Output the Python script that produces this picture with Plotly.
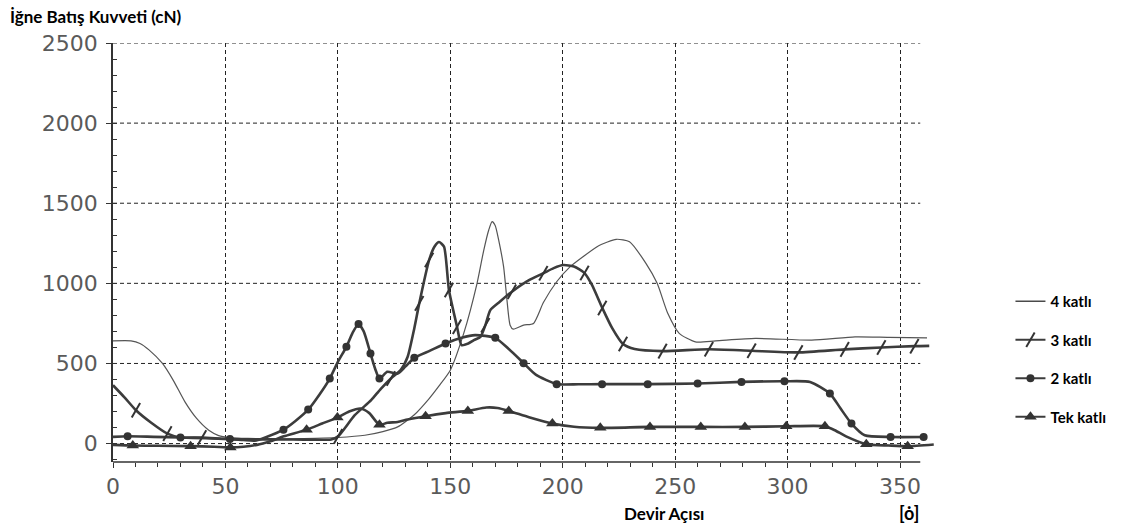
import plotly.graph_objects as go

# ---------------- data ----------------
# 4 katlı (thin line, no markers)
x4 = [0, 8, 12, 16, 22, 27, 32, 37, 42.6, 47, 52, 60, 70, 80, 90, 100, 112, 120, 126.6, 134,
      140.6, 145, 150, 156, 161.9, 164.9, 167.1, 168.6, 170, 171.5, 173.7, 175.2, 176.6, 178, 182.6,
      187, 191.4, 197.3, 203, 209, 216, 223.8, 229.7, 237, 242, 246.7, 251.8, 259, 268, 285.7,
      310.7, 330, 345, 362]
y4 = [641, 641, 625, 585, 500, 390, 260, 160, 83, 50, 38, 32, 30, 30, 33, 38, 52, 75, 104, 180,
      281, 360, 458, 689, 1000, 1208, 1333, 1385, 1360, 1271, 1104, 896, 739, 714, 739,
      750, 880, 1010, 1100, 1166, 1235, 1275, 1260, 1125, 1000, 813, 688, 635, 641, 656,
      646, 666, 663, 660]

# 3 katlı
x3 = [0, 5, 10.2, 17, 24.2, 30, 39.6, 50, 60, 70, 80, 90, 97, 100.1, 107.5, 114.8, 119, 123.6, 128, 131,
      134, 136.2, 140.6, 143, 145, 147.2, 149.4, 153, 155, 158, 160.5, 163.4, 165.6, 167.8, 172, 177.4,
      185, 191.4, 196, 200.2, 205, 209.7, 213, 217.6, 222, 226.8, 232, 244.4, 265, 284, 304.8, 325.4,
      341.7, 356.4, 363]
y3 = [364, 290, 208, 130, 62, 38, 38, 30, 27, 26, 25, 24, 26, 45, 177, 271, 340, 406, 460, 540,
      720, 875, 1146, 1230, 1258, 1229, 958, 729, 615, 625, 646, 666, 739, 833, 885, 948,
      1020, 1063, 1095, 1114, 1105, 1064, 990, 846, 720, 621, 590, 577, 589, 579, 569, 588,
      600, 608, 610]
m3 = [10.2, 24.2, 39.6, 100.1, 123.6, 136.2, 140.6, 149.4, 153, 165.6, 177.4, 191.4, 209.7, 217.6,
      226.8, 244.4, 265, 284, 304.8, 325.4, 341.7, 356.4]

# 2 katlı
x2 = [0, 6.5, 18, 30, 41, 52, 58, 63, 68, 75.8, 81, 86.8, 92, 96.4, 100, 103.8, 106.5, 109.2, 111.5,
      114.5, 116.5, 118.5, 122, 126.6, 130, 134, 141, 147.9, 155, 161, 170, 176, 182.6, 188, 197.3,
      207, 217.5, 237.8, 260, 279.5, 298.6, 310, 318.8, 323.5, 328.4, 334.3, 345.8, 360.5]
y2 = [42, 46, 42, 38, 33, 28, 22, 18, 40, 87, 140, 212, 310, 406, 510, 604, 690, 746, 700,
      562, 470, 406, 448, 437, 480, 535, 580, 625, 660, 677, 660, 590, 502, 430, 371,
      370, 371, 371, 375, 385, 389, 385, 313, 220, 125, 52, 41, 41]
m2 = [6.5, 30, 52, 75.8, 86.8, 96.4, 103.8, 109.2, 114.5, 118.5, 134, 147.9, 170, 182.6, 197.3,
      217.5, 237.8, 260, 279.5, 298.6, 318.8, 328.4, 345.8, 360.5]

# Tek katlı
x1 = [0, 8.8, 20, 34.5, 45, 52.2, 58, 64, 70, 76, 86.1, 93, 99.8, 105, 110.1, 114, 118.5, 122, 126.6, 131,
      139, 148, 157.8, 166, 171, 176, 185, 195.4, 205, 216.7, 238.8, 261.4, 281, 299.4, 316.6, 321, 326,
      335, 345, 353.4, 365]
y1 = [-8, -12, -14, -16, -20, -24, -20, -8, 15, 45, 87, 125, 162, 200, 219, 190, 117, 130, 135, 150,
      171, 190, 204, 225, 222, 204, 165, 125, 105, 98, 104, 104, 104, 108, 108, 83, 45,
      -4, -12, -17, -6]
m1 = [8.8, 34.5, 52.2, 86.1, 99.8, 118.5, 139, 157.8, 176, 195.4, 216.7, 238.8, 261.4, 281, 299.4,
      316.6, 335, 353.4]

names = ["4 katlı", "3 katlı", "2 katlı", "Tek katlı"]
y_title = "İğne Batış Kuvveti (cN)"
x_title = "Devir Açısı"
x_unit = "[ȯ]"
x_ticks = [0, 50, 100, 150, 200, 250, 300, 350]
y_ticks = [0, 500, 1000, 1500, 2000, 2500]

# ---------------- figure ----------------
INK = "#333333"
LINE = "#3c3c3c"
fig = go.Figure()

def pick(xs, ys, marks):
    return [ys[xs.index(m)] for m in marks]

# data lines
fig.add_trace(go.Scatter(x=x4, y=y4, mode="lines", line=dict(color="#555555", width=1.2, shape="spline", smoothing=0.6),
                         showlegend=False, hoverinfo="skip"))
fig.add_trace(go.Scatter(x=x3, y=y3, mode="lines", line=dict(color=LINE, width=2.6, shape="spline", smoothing=0.6),
                         showlegend=False, hoverinfo="skip"))
fig.add_trace(go.Scatter(x=x2, y=y2, mode="lines", line=dict(color=LINE, width=2.6, shape="spline", smoothing=0.6),
                         showlegend=False, hoverinfo="skip"))
fig.add_trace(go.Scatter(x=x1, y=y1, mode="lines", line=dict(color=LINE, width=2.6, shape="spline", smoothing=0.6),
                         showlegend=False, hoverinfo="skip"))

mk3 = dict(symbol="line-ns", size=12, angle=30, line=dict(color=INK, width=2), color=INK)
mk2 = dict(symbol="circle", size=8, color=INK)
mk1 = dict(symbol="triangle-up", size=11, color=INK)

fig.add_trace(go.Scatter(x=m3, y=pick(x3, y3, m3), mode="markers", marker=mk3, showlegend=False, hoverinfo="skip"))
fig.add_trace(go.Scatter(x=m2, y=pick(x2, y2, m2), mode="markers", marker=mk2, showlegend=False, hoverinfo="skip"))
fig.add_trace(go.Scatter(x=m1, y=pick(x1, y1, m1), mode="markers", marker=mk1, showlegend=False, hoverinfo="skip"))

# legend entries
fig.add_trace(go.Scatter(x=[None], y=[None], mode="lines", name=names[0], legendgroup="a",
                         line=dict(color="#4a4a4a", width=1.4)))
fig.add_trace(go.Scatter(x=[None], y=[None], mode="lines+markers", name=names[1], legendgroup="b",
                         line=dict(color=LINE, width=2), marker=mk3))
fig.add_trace(go.Scatter(x=[None], y=[None], mode="lines+markers", name=names[2], legendgroup="c",
                         line=dict(color=LINE, width=2), marker=mk2))
fig.add_trace(go.Scatter(x=[None], y=[None], mode="lines+markers", name=names[3], legendgroup="d",
                         line=dict(color=LINE, width=2), marker=mk1))

GRID = dict(color="#222222", width=1, dash="4px,3px")
shapes = [dict(type="line", xref="x", yref="y", x0=0, x1=359, y0=v, y1=v, line=GRID, layer="below")
          for v in y_ticks]
shapes.append(dict(type="line", xref="x", yref="paper", x0=0, x1=359, y0=0, y1=0,
                   line=dict(color=INK, width=1.5)))

tickfont = dict(family="DejaVu Sans", size=22, color="#5a5a5a")

fig.update_layout(
    width=1124, height=532,
    margin=dict(l=113, r=182, t=43, b=70),
    paper_bgcolor="white", plot_bgcolor="white",
    shapes=shapes,
    title=dict(text="<b>" + y_title + "</b>", x=10 / 1124, xanchor="left", xref="container",
               y=1 - 17 / 532, yanchor="middle", yref="container",
               font=dict(family="Lato", size=17, color="black")),
    xaxis=dict(range=[0, 366], tickvals=x_ticks, showline=False, zeroline=False, automargin=False,
               showgrid=True, gridcolor="#222222", gridwidth=1, griddash="4px,3px",
               ticks="outside", ticklen=5, tickcolor=INK, tickwidth=1,
               minor=dict(tickmode="array", tickvals=list(range(0, 360, 10)), ticks="outside",
                          ticklen=4, tickcolor=INK, tickwidth=1, showgrid=False),
               tickfont=tickfont),
    yaxis=dict(range=[-115, 2500], tickvals=y_ticks, showline=True, linecolor=INK, linewidth=1.5,
               zeroline=False, showgrid=False, automargin=False,
               ticks="outside", ticklen=5, tickcolor=INK, tickwidth=1,
               minor=dict(tickmode="array", tickvals=list(range(-100, 2500, 100)), ticks="inside",
                          ticklen=4, tickcolor=INK, tickwidth=1, showgrid=False),
               tickfont=tickfont, ticklabelstandoff=4),
    legend=dict(x=(1017 - 113) / 829, xanchor="left", y=(462 - 285) / 419, yanchor="top",
                font=dict(family="Lato", size=15, color="black", weight="bold"),
                tracegroupgap=16, bgcolor="rgba(0,0,0,0)", borderwidth=0),
    annotations=[
        dict(text="<b>" + x_title + "</b>", xref="paper", yref="paper", x=(668 - 113) / 829,
             y=(462 - 513) / 419, xanchor="center", yanchor="middle", showarrow=False,
             font=dict(family="Lato", size=17, color="black")),
        dict(text="<b>" + x_unit + "</b>", xref="paper", yref="paper", x=(915 - 113) / 829,
             y=(462 - 513) / 419, xanchor="center", yanchor="middle", showarrow=False,
             font=dict(family="Lato", size=18, color="black")),
    ],
)

fig.write_html("out.html", config={"displayModeBar": False},
               post_script="document.body.style.margin='0';")
